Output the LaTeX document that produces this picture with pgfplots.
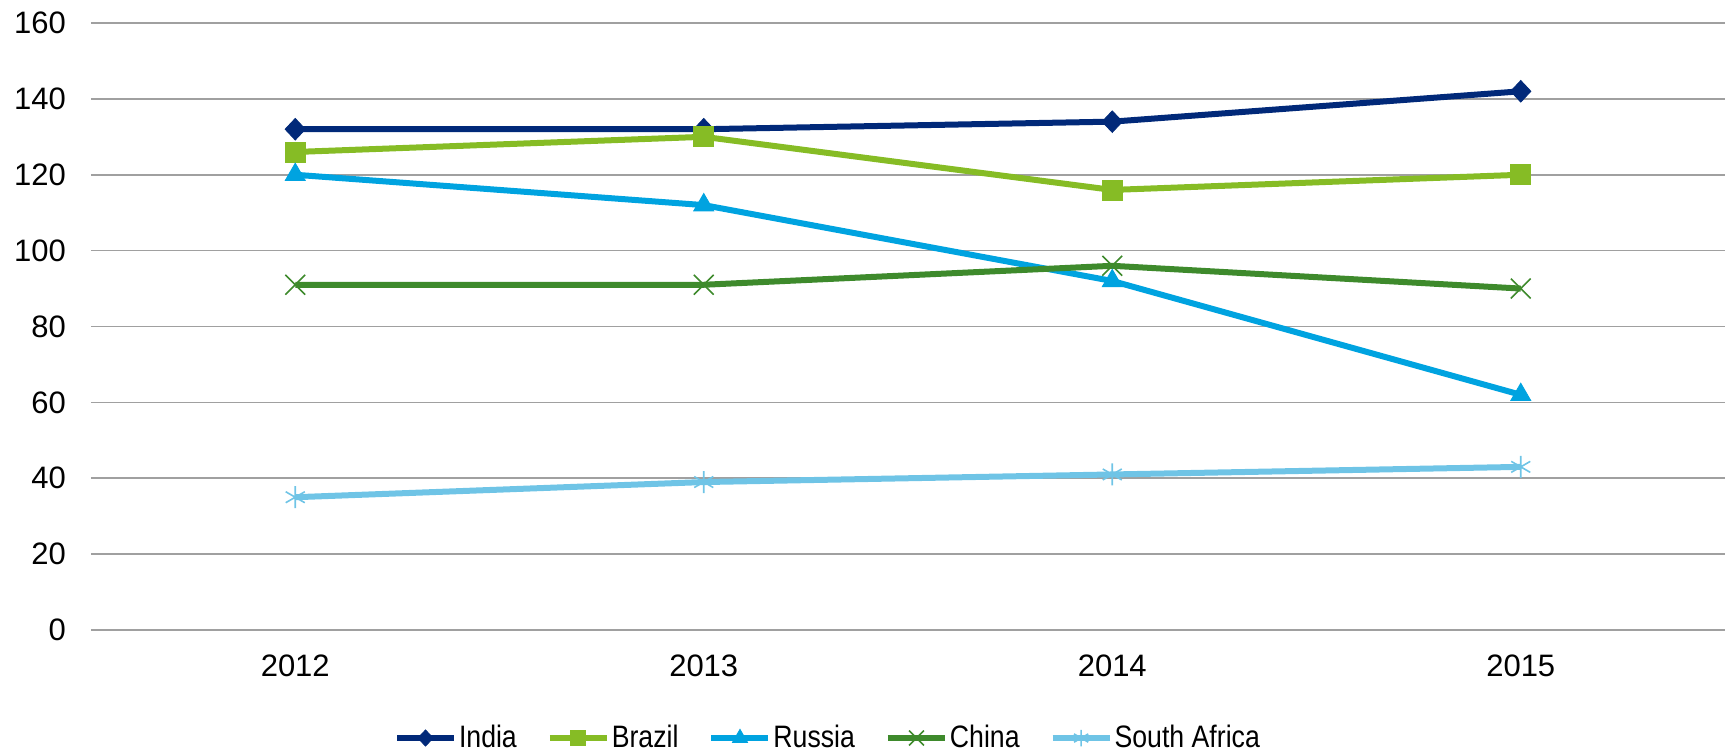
\documentclass[border=0pt]{standalone}
\usepackage{graphicx}
\usepackage{pgfplots}
\pgfplotsset{compat=1.18}
\usepackage{fontspec}
\setmainfont{Liberation Sans}
\definecolor{cIndia}{HTML}{012979}
\definecolor{cBrazil}{HTML}{86BC25}
\definecolor{cRussia}{HTML}{00A3E0}
\definecolor{cChina}{HTML}{3E8A2C}
\definecolor{cSA}{HTML}{6FC4E6}
\definecolor{cGrid}{HTML}{A0A0A0}
\newcommand{\lt}[1]{\scalebox{0.86}[1]{#1}}
\begin{document}
\begin{tikzpicture}
\begin{axis}[
  scale only axis,
  width=817pt, height=303.5pt,
  xmin=-0.5, xmax=3.5,
  ymin=0, ymax=160,
  xtick={0,1,2,3},
  xticklabels={2012,2013,2014,2015},
  ytick={0,20,...,160},
  ymajorgrids,
  grid style={cGrid, line width=0.8pt},
  axis line style={draw=none},
  tick style={draw=none},
  font=\fontsize{15.5}{18}\selectfont,
  /pgf/number format/assume math mode=true,
  yticklabel style={xshift=-9pt},
  xticklabel style={yshift=-9pt},
  legend columns=5,
  legend style={draw=none, fill=none, at={(0.451,-0.178)}, anchor=center,
    font=\fontsize{15.5}{18}\selectfont,
    nodes={inner xsep=1pt},
    /tikz/every even column/.append style={column sep=14pt},
    inner sep=0pt},
  legend image code/.code={\draw[mark repeat=2,mark phase=2, every mark/.append style={scale=0.75}] plot coordinates {(0pt,0pt) (14.25pt,0pt) (28.5pt,0pt)};},
]
\addplot[cIndia, line width=3pt, mark=diamond*, mark size=5.4pt, mark options={solid, line width=0.4pt, xscale=1.25}] coordinates {(0,132) (1,132) (2,134) (3,142)};
\addlegendentry{\lt{India}}
\addplot[cBrazil, line width=3pt, mark=square*, mark size=5pt, mark options={solid, line width=0.4pt}] coordinates {(0,126) (1,130) (2,116) (3,120)};
\addlegendentry{\lt{Brazil}}
\addplot[cRussia, line width=3pt, mark=triangle*, mark size=5.8pt, mark options={solid, line width=0.4pt}] coordinates {(0,120) (1,112) (2,92) (3,62)};
\addlegendentry{\lt{Russia}}
\addplot[cChina, line width=3pt, mark=x, mark size=7pt, mark options={solid, line width=0.8pt}] coordinates {(0,91) (1,91) (2,96) (3,90)};
\addlegendentry{\lt{China}}
\addplot[cSA, line width=3pt, mark=asterisk, mark size=5.5pt, mark options={solid, line width=0.8pt}] coordinates {(0,35) (1,39) (2,41) (3,43)};
\addlegendentry{\lt{South Africa}}
\coordinate (bl) at (rel axis cs:0,0);
\coordinate (tr) at (rel axis cs:1,1);
\end{axis}
\pgfresetboundingbox
\path ([xshift=-45.5pt,yshift=-60.5pt]bl) rectangle ([xshift=1pt,yshift=11.5pt]tr);
\end{tikzpicture}
\end{document}
